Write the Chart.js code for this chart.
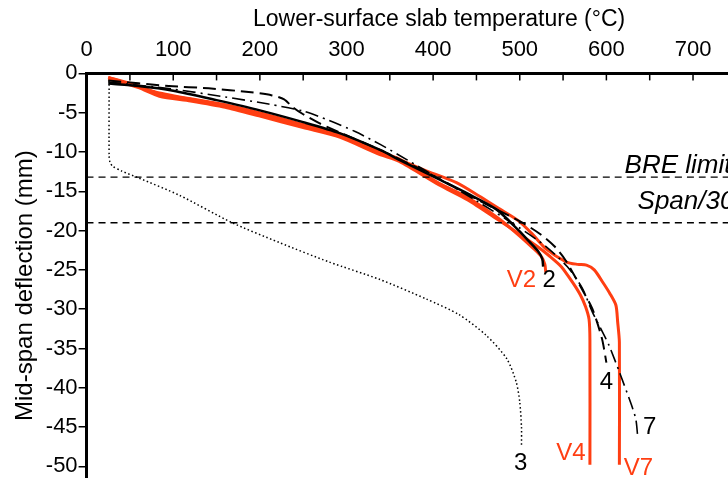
<!DOCTYPE html>
<html>
<head>
<meta charset="utf-8">
<script src="https://cdn.jsdelivr.net/npm/chart.js@4.4.1/dist/chart.umd.min.js"></script>
<style>
  html, body { margin: 0; padding: 0; background: #fff; width: 728px; height: 478px; overflow: hidden; }
  #wrap { position: relative; width: 808px; height: 512px; }
</style>
</head>
<body>
<div id="wrap"><canvas id="chart" width="808" height="512"></canvas></div>
<script>
// Lower-surface slab temperature (°C) vs mid-span deflection (mm)
const test2Temp = [25, 60, 100, 150, 200, 250, 292, 340, 361, 407, 440, 473, 499, 511, 521, 526, 527];
const test2Defl = [-1.3, -1.6, -2.2, -3.4, -4.7, -6.2, -7.6, -9.8, -11.0, -13.5, -15.3, -17.3, -20.0, -21.4, -22.6, -23.6, -24.6];

const test3Temp = [26, 26, 27, 30, 40, 60, 107, 168, 222, 280, 338, 392, 430, 461, 485, 496, 500, 502, 502];
const test3Defl = [-0.9, -10.5, -11.3, -11.8, -12.4, -13.3, -15.5, -19.0, -21.5, -24.0, -26.2, -28.7, -30.7, -33.3, -36.3, -39.3, -41.8, -45.0, -47.3];

const test4Temp = [25, 95, 141, 190, 214, 228, 238, 250, 268, 290, 340, 400, 450, 503, 523, 540, 553, 569, 584, 595, 600];
const test4Defl = [-0.9, -1.6, -1.9, -2.4, -2.8, -3.3, -4.3, -5.2, -6.3, -7.4, -9.8, -13.0, -16.0, -19.0, -20.4, -22.0, -23.8, -26.9, -30.0, -33.8, -36.8];

const test7Temp = [25, 100, 160, 210, 250, 280, 310, 340, 370, 407, 450, 499, 530, 555, 572, 584, 595, 603, 615, 629, 634, 636];
const test7Defl = [-1.1, -2.0, -3.0, -3.9, -4.8, -6.0, -7.4, -9.1, -11.0, -13.4, -16.2, -19.6, -22.0, -24.6, -27.3, -30.4, -32.8, -34.6, -38.0, -42.2, -44.0, -46.0];

const v2Temp = [25, 60, 84, 120, 160, 199, 250, 292, 338, 361, 407, 440, 476, 499, 515, 525, 529, 530];
const v2Defl = [-0.5, -1.6, -2.6, -3.3, -4.1, -5.2, -6.6, -7.9, -10.0, -10.9, -14.0, -15.8, -18.5, -20.6, -22.2, -23.3, -24.3, -25.3];

const v4Temp = [25, 60, 84, 120, 160, 199, 250, 292, 338, 361, 407, 440, 476, 499, 520, 535, 548, 561, 570, 576, 580, 581, 581];
const v4Defl = [-0.7, -1.8, -2.9, -3.5, -4.3, -5.4, -6.9, -8.1, -10.3, -11.2, -14.2, -16.1, -18.7, -20.4, -22.0, -23.3, -24.6, -26.6, -28.2, -29.7, -31.3, -34.0, -49.8];

const v7Temp = [25, 84, 160, 199, 250, 292, 338, 349, 390, 427, 453, 476, 499, 515, 531, 554, 567, 577, 586, 596, 604, 611, 613, 615, 615];
const v7Defl = [-0.5, -2.5, -4.0, -5.0, -6.5, -7.7, -9.8, -10.4, -12.3, -13.9, -15.6, -17.2, -18.8, -20.5, -22.4, -24.0, -24.3, -24.4, -25.0, -26.6, -28.0, -29.5, -31.6, -34.2, -49.8];

const limitNames = ['BRE limit', 'Span/30'];
const limitDefl = [-13.2, -19.0];

const RED = 'rgb(255, 62, 18)';
const FONT = '"Liberation Sans", Arial, sans-serif';

function series(temps, defl) {
    return temps.map((t, i) => ({ x: t, y: defl[i] }));
}

function line(temps, defl, color, width, dash, order) {
    return {
        data: series(temps, defl),
        borderColor: color,
        borderWidth: width,
        borderDash: dash,
        pointRadius: 0,
        tension: 0.25,
        fill: false,
        order: order
    };
}

const limitSets = limitDefl.map(d => line([0, 800], [d, d], '#000', 1.3, [7, 5], 0));

// text labels next to the curves, in data units
const curveLabels = [
    { text: 'V2', t: 502, d: -26.3, color: RED },
    { text: '2', t: 534, d: -26.3, color: '#000' },
    { text: '3', t: 501, d: -49.6, color: '#000' },
    { text: '4', t: 600, d: -39.3, color: '#000' },
    { text: '7', t: 650, d: -45.1, color: '#000' },
    { text: 'V4', t: 559, d: -48.3, color: RED },
    { text: 'V7', t: 637, d: -50.2, color: RED }
];

const extras = {
    id: 'extras',
    afterDatasetsDraw(chart) {
        const { ctx, chartArea } = chart;
        const x = chart.scales.x, y = chart.scales.y;
        ctx.save();
        // inward tick marks on the top axis
        ctx.strokeStyle = '#000';
        ctx.lineWidth = 1.5;
        for (let t = 50; t < 800; t += 50) {
            const px = x.getPixelForValue(t);
            ctx.beginPath();
            ctx.moveTo(px, chartArea.top);
            ctx.lineTo(px, chartArea.top + 7);
            ctx.stroke();
        }
        // top axis title
        ctx.fillStyle = '#000';
        ctx.font = '23px ' + FONT;
        ctx.textAlign = 'center';
        ctx.textBaseline = 'middle';
        ctx.fillText('Lower-surface slab temperature (°C)', (chartArea.left + chartArea.right) / 2 + 6, 20);
        // limit names
        ctx.font = 'italic 26px ' + FONT;
        ctx.textAlign = 'left';
        ctx.textBaseline = 'alphabetic';
        ctx.fillText(limitNames[0], x.getPixelForValue(621), y.getPixelForValue(-12.7));
        ctx.fillText(limitNames[1], x.getPixelForValue(636), y.getPixelForValue(-17.3));
        // curve labels
        ctx.font = '24px ' + FONT;
        ctx.textAlign = 'center';
        ctx.textBaseline = 'middle';
        curveLabels.forEach(l => {
            ctx.fillStyle = l.color;
            ctx.fillText(l.text, x.getPixelForValue(l.t), y.getPixelForValue(l.d));
        });
        ctx.restore();
    }
};

new Chart(document.getElementById('chart'), {
    type: 'line',
    data: {
        datasets: [
            line(test2Temp, test2Defl, '#000', 2.5, [], 1),
            line(test4Temp, test4Defl, '#000', 2, [13, 6], 2),
            line(test7Temp, test7Defl, '#000', 1.6, [13, 5, 2, 5], 3),
            line(test3Temp, test3Defl, '#000', 1.5, [1.5, 2.5], 4),
            line(v2Temp, v2Defl, RED, 3, [], 5),
            line(v4Temp, v4Defl, RED, 3, [], 6),
            line(v7Temp, v7Defl, RED, 3, [], 7),
            ...limitSets
        ]
    },
    options: {
        responsive: false,
        animation: false,
        devicePixelRatio: 1,
        layout: { padding: { left: 6, top: 27, right: 20, bottom: 0 } },
        plugins: {
            legend: { display: false },
            tooltip: { enabled: false }
        },
        scales: {
            x: {
                type: 'linear',
                position: 'top',
                min: 0,
                max: 800,
                ticks: { stepSize: 100, color: '#000', font: { family: FONT, size: 22 }, padding: 10, maxRotation: 0 },
                grid: { display: true, drawOnChartArea: false, drawTicks: false },
                border: { color: '#000', width: 3 },
                title: { display: false }
            },
            y: {
                type: 'linear',
                min: -54,
                max: 0,
                ticks: {
                    stepSize: 5,
                    color: '#000',
                    font: { family: FONT, size: 22 },
                    padding: 1,
                    callback: v => (v % 5 === 0 ? String(v) : '')
                },
                grid: { drawOnChartArea: false, drawTicks: true, tickLength: 8, color: '#000', lineWidth: 1.5 },
                border: { color: '#000', width: 3 },
                title: {
                    display: true,
                    text: 'Mid-span deflection (mm)',
                    color: '#000',
                    font: { family: FONT, size: 24 },
                    padding: { top: 5, bottom: 5 }
                }
            }
        }
    },
    plugins: [extras]
});
</script>
</body>
</html>
